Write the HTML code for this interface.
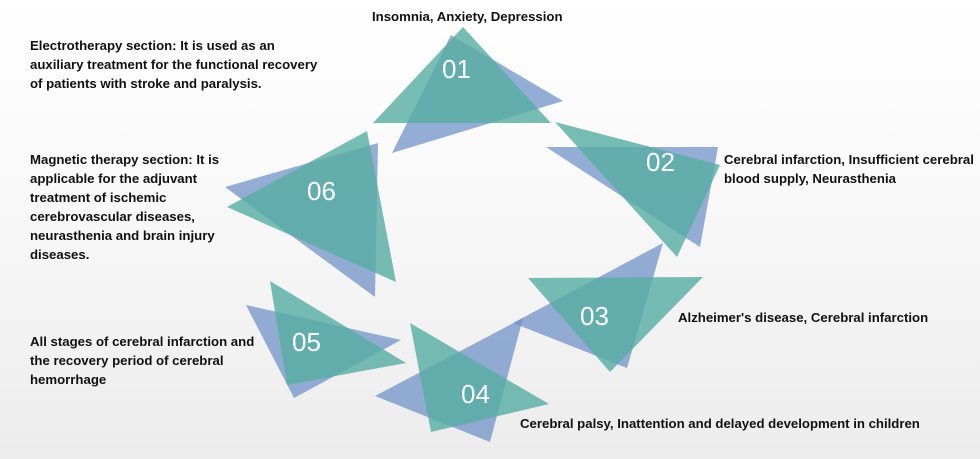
<!DOCTYPE html>
<html><head><meta charset="utf-8"><style>
html,body{margin:0;padding:0}
body{width:980px;height:459px;overflow:hidden;position:relative;background:linear-gradient(#ffffff 0%,#f9f9f9 40%,#ececec 100%);font-family:"Liberation Sans","Noto Sans CJK SC",sans-serif}
.t{position:absolute;font-weight:bold;font-size:13.2px;line-height:19px;color:#111;white-space:nowrap}
svg{position:absolute;left:0;top:0}
</style></head><body>
<svg width="980" height="459">
<g fill="#6c8fc6" fill-opacity="0.72">
<polygon points="451,35 563,101 392,153"/>
<polygon points="546,147 718,147 700,247"/>
<polygon points="663,243 627,368 513,323"/>
<polygon points="523,318 375,396 490,442"/>
<polygon points="246,305 401,340 294,398"/>
<polygon points="378,143 225,187 375,297"/>
</g>
<g fill="#56aca2" fill-opacity="0.8">
<polygon points="463,27 373,123 551,123"/>
<polygon points="555,122 720,165 677,257"/>
<polygon points="528,278 703,277 610,372"/>
<polygon points="410,323 549,404 431,432"/>
<polygon points="270,281 406,363 287,385"/>
<polygon points="367,131 227,207 396,282"/>
</g>
<g fill="#fff" font-family="Liberation Sans, sans-serif" font-size="26">
<text x="442" y="78">01</text>
<text x="646" y="171">02</text>
<text x="580" y="325">03</text>
<text x="461" y="403">04</text>
<text x="292" y="351">05</text>
<text x="307" y="200">06</text>
</g>
</svg>
<div class="t" style="left:372px;top:7px">Insomnia, Anxiety, Depression</div>
<div class="t" style="left:30px;top:36px">Electrotherapy section: It is used as an<br>auxiliary treatment for the functional recovery<br>of patients with stroke and paralysis.</div>
<div class="t" style="left:30px;top:150px">Magnetic therapy section: It is<br>applicable for the adjuvant<br>treatment of ischemic<br>cerebrovascular diseases,<br>neurasthenia and brain injury<br>diseases.</div>
<div class="t" style="left:724px;top:150px">Cerebral infarction, Insufficient cerebral<br>blood supply, Neurasthenia</div>
<div class="t" style="left:678px;top:308px">Alzheimer's disease, Cerebral infarction</div>
<div class="t" style="left:30px;top:332px">All stages of cerebral infarction and<br>the recovery period of cerebral<br>hemorrhage</div>
<div class="t" style="left:520px;top:414px">Cerebral palsy, Inattention and delayed development in children</div>
</body></html>
